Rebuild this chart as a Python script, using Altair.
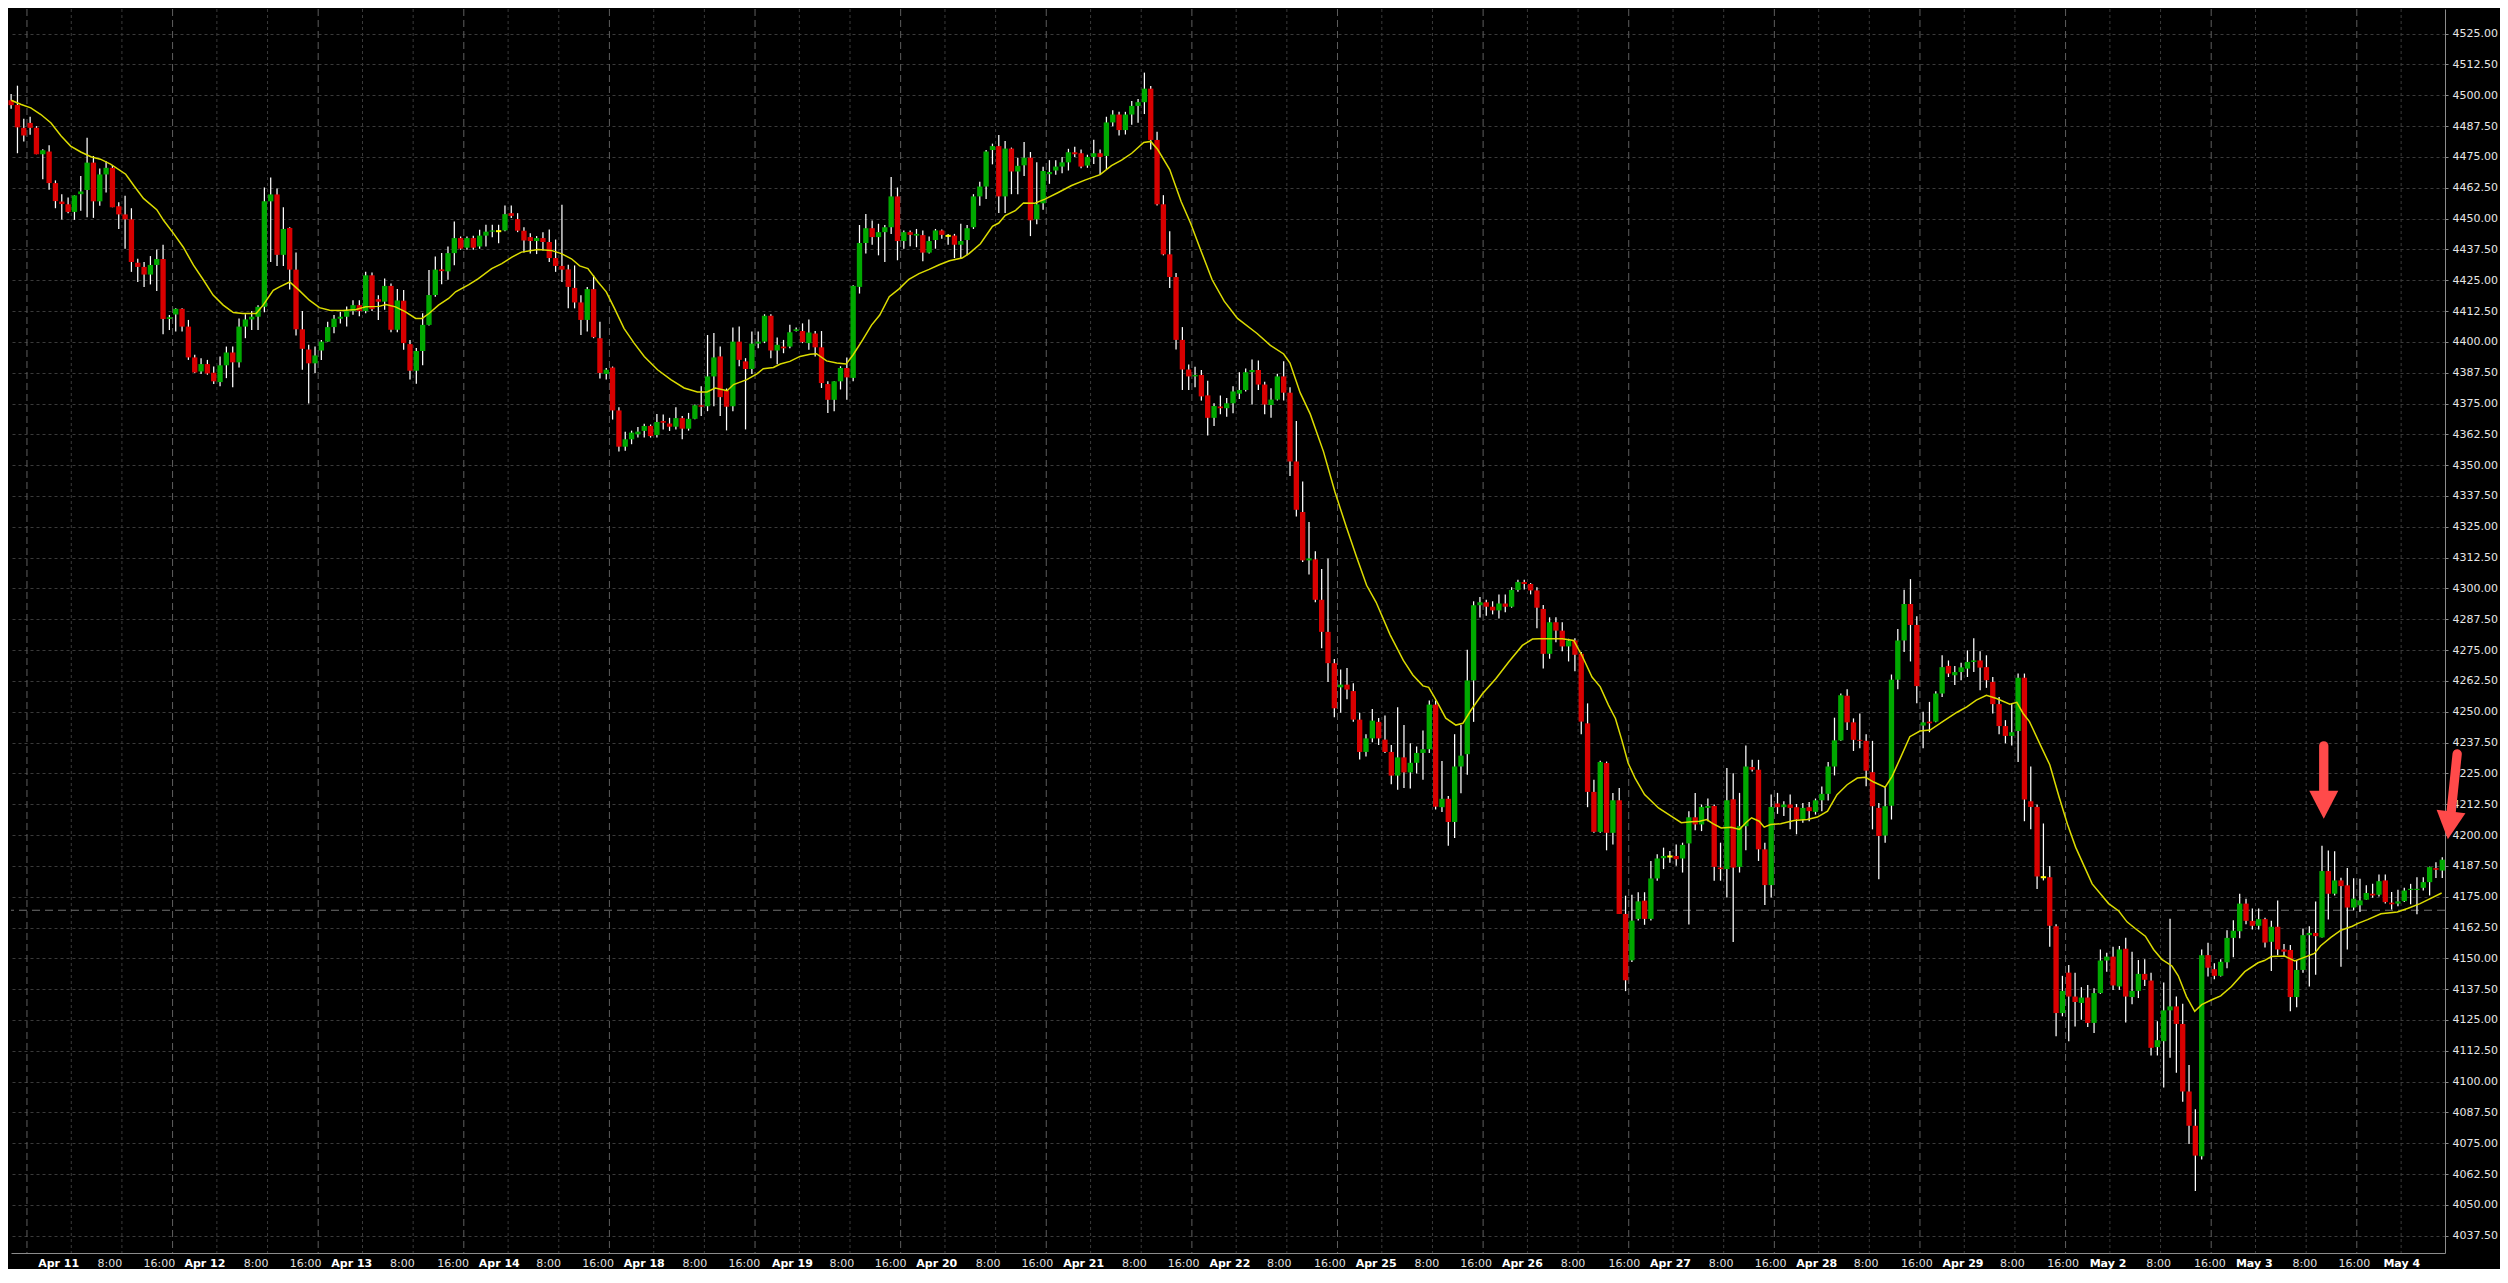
import altair as alt
import pandas as pd

# ---------------- data (hourly candles, index 0..384) ----------------
opens = [
4498.0, 4496.1, 4486.8, 4488.8, 4486.8, 4476.1, 4477.2, 4464.4, 4456.9, 4455.8,
4452.7, 4459.9, 4461.6, 4472.7, 4457.0, 4467.9, 4470.6, 4455.0, 4451.7, 4449.7,
4432.1, 4430.4, 4427.3, 4431.2, 4433.6, 4409.3, 4411.1, 4413.4, 4406.2, 4393.7,
4388.0, 4391.0, 4387.5, 4383.7, 4390.5, 4395.7, 4391.7, 4406.2, 4409.1, 4410.2,
4414.2, 4457.0, 4459.8, 4435.3, 4446.2, 4429.3, 4405.1, 4396.9, 4391.3, 4396.5,
4400.1, 4406.0, 4409.4, 4410.2, 4412.5, 4414.9, 4412.5, 4427.0, 4417.3, 4416.3,
4422.7, 4404.9, 4416.7, 4399.1, 4388.3, 4396.3, 4406.9, 4419.0, 4429.4, 4428.6,
4436.0, 4442.1, 4438.2, 4442.1, 4438.7, 4443.1, 4444.7, 4444.9, 4445.2, 4452.2,
4449.8, 4445.1, 4442.5, 4440.9, 4442.1, 4440.5, 4434.0, 4430.8, 4429.4, 4421.9,
4416.0, 4408.9, 4421.4, 4401.5, 4387.0, 4389.6, 4372.2, 4357.5, 4360.5, 4362.5,
4363.9, 4365.9, 4362.2, 4367.9, 4366.9, 4365.6, 4369.1, 4364.8, 4368.8, 4374.3,
4373.9, 4386.0, 4394.1, 4380.2, 4373.9, 4400.1, 4392.1, 4389.0, 4399.3, 4400.1,
4410.6, 4396.5, 4398.1, 4398.1, 4404.4, 4404.4, 4399.5, 4403.4, 4397.8, 4382.9,
4376.5, 4384.0, 4389.4, 4385.4, 4422.3, 4440.1, 4446.1, 4442.5, 4444.5, 4446.5,
4459.0, 4440.9, 4444.5, 4443.1, 4443.3, 4436.2, 4441.3, 4445.2, 4443.0, 4443.1,
4439.4, 4441.3, 4446.5, 4459.0, 4463.0, 4477.8, 4479.4, 4459.0, 4478.4, 4469.1,
4471.6, 4474.7, 4449.7, 4456.2, 4468.0, 4469.5, 4471.1, 4472.8, 4476.9, 4476.5,
4471.5, 4475.0, 4476.5, 4475.4, 4489.0, 4492.2, 4485.9, 4492.2, 4495.7, 4497.2,
4502.7, 4481.9, 4455.8, 4435.5, 4426.3, 4400.8, 4388.8, 4386.0, 4386.6, 4378.3,
4369.2, 4373.8, 4373.1, 4375.1, 4379.0, 4380.5, 4387.7, 4388.6, 4382.7, 4374.4,
4376.6, 4386.0, 4379.4, 4351.5, 4331.0, 4311.4, 4311.8, 4295.4, 4282.4, 4269.7,
4259.9, 4261.0, 4258.4, 4246.8, 4233.7, 4239.2, 4245.9, 4238.7, 4233.7, 4224.1,
4231.5, 4225.4, 4229.3, 4233.3, 4234.8, 4252.9, 4211.3, 4214.7, 4205.3, 4227.8,
4232.8, 4262.7, 4293.2, 4294.4, 4292.6, 4291.1, 4293.9, 4292.6, 4299.4, 4302.6,
4301.8, 4299.2, 4291.7, 4273.5, 4286.3, 4282.9, 4276.5, 4278.9, 4273.5, 4245.3,
4217.5, 4201.3, 4229.2, 4200.9, 4214.1, 4168.0, 4149.2, 4166.0, 4173.4, 4166.0,
4182.4, 4190.6, 4191.3, 4191.5, 4190.5, 4196.6, 4207.2, 4204.3, 4211.0, 4211.8,
4186.8, 4186.2, 4214.5, 4187.1, 4203.6, 4227.6, 4226.5, 4194.2, 4179.7, 4212.8,
4211.3, 4212.4, 4211.3, 4206.3, 4211.3, 4209.4, 4214.1, 4216.7, 4227.8, 4238.4,
4256.5, 4245.7, 4238.6, 4238.2, 4225.5, 4211.0, 4199.8, 4211.9, 4263.0, 4278.9,
4293.7, 4285.2, 4244.4, 4246.0, 4246.0, 4257.4, 4268.6, 4264.8, 4266.1, 4267.5,
4270.2, 4270.8, 4268.1, 4262.1, 4253.1, 4244.2, 4240.2, 4242.2, 4263.8, 4213.7,
4211.4, 4182.9, 4182.9, 4163.0, 4127.8, 4144.2, 4134.5, 4131.9, 4134.1, 4123.8,
4135.9, 4149.1, 4150.7, 4138.6, 4153.9, 4134.3, 4136.8, 4143.7, 4141.0, 4114.0,
4116.4, 4128.9, 4130.5, 4123.4, 4096.0, 4082.1, 4069.7, 4151.3, 4145.6, 4142.9,
4148.4, 4158.3, 4161.0, 4172.2, 4165.2, 4163.2, 4165.9, 4156.7, 4162.8, 4153.6,
4153.4, 4134.3, 4145.3, 4159.4, 4160.3, 4158.5, 4185.4, 4176.2, 4181.6, 4179.6,
4170.6, 4171.5, 4173.8, 4176.2, 4175.8, 4181.6, 4172.6, 4172.2, 4173.2, 4177.7,
4177.7, 4178.6, 4180.9, 4186.6, 4185.6]

highs = [
4500.5, 4503.9, 4490.5, 4491.3, 4487.5, 4478.1, 4479.7, 4465.5, 4459.9, 4458.6,
4459.4, 4467.3, 4482.8, 4475.4, 4470.3, 4473.3, 4471.6, 4456.6, 4459.3, 4454.2,
4433.7, 4432.4, 4434.8, 4437.5, 4439.4, 4410.9, 4413.6, 4413.6, 4408.9, 4394.8,
4393.4, 4392.7, 4390.0, 4394.1, 4398.1, 4398.1, 4409.5, 4411.2, 4412.5, 4414.9,
4462.6, 4466.7, 4462.2, 4454.6, 4446.5, 4436.2, 4412.5, 4398.8, 4398.1, 4400.8,
4408.2, 4410.9, 4412.2, 4414.3, 4416.9, 4416.9, 4428.4, 4428.1, 4418.9, 4425.7,
4423.7, 4421.4, 4421.0, 4400.8, 4397.5, 4411.6, 4429.2, 4434.6, 4436.0, 4438.7,
4448.8, 4442.7, 4442.7, 4443.0, 4445.5, 4447.5, 4447.5, 4447.5, 4455.3, 4455.3,
4452.2, 4446.5, 4444.1, 4442.9, 4444.5, 4445.6, 4441.5, 4455.6, 4431.3, 4431.0,
4418.9, 4422.3, 4427.0, 4408.2, 4389.4, 4390.0, 4373.5, 4363.6, 4364.0, 4365.5,
4366.8, 4366.5, 4370.8, 4370.6, 4369.2, 4373.5, 4369.9, 4371.2, 4374.6, 4382.0,
4402.8, 4403.6, 4398.1, 4381.1, 4405.8, 4406.2, 4393.4, 4404.2, 4404.2, 4411.2,
4411.2, 4401.8, 4400.8, 4406.9, 4405.8, 4407.5, 4409.1, 4404.4, 4404.4, 4384.0,
4384.0, 4390.1, 4393.7, 4423.0, 4447.4, 4451.9, 4449.2, 4447.9, 4447.4, 4466.9,
4462.6, 4445.2, 4445.2, 4445.8, 4445.2, 4442.7, 4445.8, 4445.6, 4443.8, 4443.8,
4447.9, 4447.4, 4459.9, 4464.9, 4477.8, 4480.4, 4483.9, 4481.5, 4478.8, 4474.7,
4481.1, 4477.0, 4472.8, 4471.0, 4473.7, 4473.7, 4475.0, 4478.3, 4479.1, 4478.0,
4475.9, 4482.0, 4478.0, 4491.3, 4493.9, 4493.3, 4493.3, 4497.7, 4498.5, 4509.2,
4503.8, 4485.2, 4459.5, 4444.9, 4427.9, 4406.0, 4390.8, 4389.9, 4388.6, 4384.2,
4375.1, 4378.3, 4377.2, 4382.0, 4387.7, 4389.2, 4392.9, 4392.5, 4383.8, 4381.2,
4387.1, 4392.1, 4381.6, 4367.9, 4343.4, 4327.0, 4315.1, 4307.9, 4312.2, 4271.4,
4267.1, 4267.7, 4261.6, 4249.6, 4240.9, 4251.1, 4247.5, 4248.5, 4236.5, 4251.8,
4244.6, 4237.2, 4235.9, 4242.4, 4254.6, 4254.6, 4230.0, 4215.8, 4240.9, 4244.6,
4275.1, 4294.8, 4296.5, 4295.4, 4294.8, 4297.6, 4297.6, 4300.5, 4303.5, 4303.5,
4302.2, 4300.5, 4293.3, 4288.3, 4288.3, 4286.3, 4279.6, 4279.8, 4274.2, 4253.4,
4222.4, 4230.1, 4229.8, 4217.1, 4219.1, 4175.4, 4175.8, 4176.8, 4176.8, 4189.5,
4192.2, 4194.9, 4193.5, 4196.2, 4196.9, 4209.7, 4217.1, 4212.4, 4214.8, 4212.4,
4196.9, 4227.2, 4225.1, 4217.1, 4236.3, 4230.5, 4230.5, 4196.9, 4216.4, 4217.1,
4213.7, 4216.4, 4212.6, 4213.0, 4213.4, 4214.8, 4219.7, 4229.6, 4247.6, 4257.4,
4259.1, 4247.3, 4249.3, 4240.9, 4238.2, 4213.0, 4219.8, 4265.1, 4283.6, 4299.5,
4303.8, 4288.7, 4250.0, 4254.0, 4258.3, 4272.9, 4270.8, 4268.6, 4269.9, 4274.9,
4279.8, 4274.5, 4272.9, 4264.1, 4256.0, 4246.6, 4253.1, 4265.5, 4265.5, 4227.8,
4212.4, 4204.7, 4187.4, 4163.8, 4142.9, 4147.3, 4144.2, 4138.3, 4139.2, 4137.9,
4153.6, 4152.3, 4154.7, 4155.0, 4158.3, 4152.7, 4149.3, 4149.6, 4144.2, 4124.5,
4140.2, 4166.1, 4134.5, 4131.6, 4106.7, 4088.8, 4153.6, 4156.3, 4148.0, 4149.6,
4161.4, 4165.4, 4176.2, 4174.2, 4170.2, 4170.2, 4166.5, 4165.2, 4173.5, 4155.8,
4155.4, 4149.3, 4162.1, 4163.0, 4173.1, 4195.7, 4193.7, 4193.4, 4182.7, 4186.6,
4182.5, 4182.3, 4179.6, 4180.2, 4184.0, 4184.0, 4176.9, 4177.8, 4178.6, 4180.2,
4182.9, 4182.9, 4187.2, 4189.0, 4191.0]

lows = [
4494.5, 4476.5, 4481.3, 4484.0, 4476.1, 4466.0, 4461.7, 4454.2, 4449.6, 4452.2,
4449.5, 4453.2, 4450.5, 4450.3, 4455.2, 4460.6, 4454.6, 4445.8, 4437.8, 4428.4,
4424.3, 4422.3, 4423.3, 4420.6, 4403.1, 4404.8, 4404.2, 4404.2, 4392.7, 4387.4,
4387.0, 4386.7, 4382.9, 4382.0, 4385.3, 4381.6, 4389.6, 4401.5, 4404.8, 4404.8,
4412.0, 4432.4, 4430.8, 4430.8, 4421.2, 4402.6, 4388.7, 4375.0, 4387.4, 4392.7,
4400.1, 4403.5, 4407.5, 4406.2, 4411.0, 4410.4, 4411.6, 4412.5, 4408.9, 4413.0,
4403.9, 4403.9, 4396.8, 4384.7, 4383.0, 4390.5, 4406.6, 4418.3, 4423.4, 4425.2,
4431.1, 4437.4, 4437.4, 4437.4, 4437.8, 4438.7, 4442.4, 4440.0, 4444.9, 4450.2,
4444.5, 4436.3, 4435.8, 4435.6, 4437.1, 4432.4, 4428.4, 4424.3, 4413.6, 4413.6,
4402.8, 4404.2, 4401.5, 4385.1, 4384.7, 4368.5, 4355.5, 4355.8, 4358.5, 4361.2,
4361.2, 4361.2, 4361.2, 4364.5, 4363.9, 4364.5, 4360.5, 4364.0, 4368.6, 4369.9,
4371.9, 4373.9, 4369.9, 4364.1, 4371.9, 4390.1, 4364.5, 4387.0, 4397.4, 4399.5,
4393.4, 4390.9, 4395.4, 4397.4, 4404.2, 4399.5, 4396.8, 4394.1, 4381.3, 4371.2,
4371.9, 4380.7, 4376.5, 4384.0, 4419.6, 4435.8, 4439.4, 4435.1, 4432.4, 4443.8,
4433.1, 4437.8, 4438.8, 4438.4, 4432.7, 4435.8, 4437.8, 4441.8, 4439.4, 4434.0,
4433.7, 4435.1, 4445.8, 4455.2, 4457.9, 4472.0, 4452.3, 4452.3, 4459.9, 4459.9,
4467.3, 4442.9, 4447.7, 4453.6, 4464.1, 4467.8, 4468.4, 4469.5, 4475.0, 4470.4,
4470.6, 4472.1, 4467.8, 4469.9, 4487.4, 4483.7, 4484.1, 4488.1, 4488.9, 4492.4,
4478.0, 4455.3, 4435.1, 4421.9, 4396.9, 4380.5, 4380.5, 4381.6, 4376.2, 4362.0,
4365.9, 4370.7, 4369.6, 4371.1, 4376.8, 4379.9, 4374.6, 4380.5, 4370.7, 4369.2,
4376.2, 4376.2, 4345.6, 4329.2, 4310.7, 4305.7, 4294.4, 4275.8, 4262.1, 4247.8,
4249.6, 4255.1, 4245.9, 4230.6, 4231.9, 4237.6, 4236.5, 4233.3, 4220.6, 4218.4,
4219.1, 4218.9, 4225.0, 4222.4, 4233.3, 4210.4, 4209.3, 4195.7, 4198.8, 4216.9,
4224.5, 4245.9, 4288.2, 4288.9, 4289.5, 4287.8, 4290.4, 4292.2, 4298.7, 4299.6,
4297.6, 4283.9, 4267.5, 4271.5, 4278.2, 4274.5, 4270.4, 4266.4, 4240.9, 4211.3,
4200.9, 4200.9, 4193.8, 4196.2, 4168.0, 4136.7, 4148.5, 4165.3, 4163.6, 4165.3,
4181.5, 4186.2, 4188.8, 4187.5, 4184.8, 4163.7, 4201.9, 4201.6, 4205.6, 4181.5,
4181.5, 4174.7, 4156.6, 4184.8, 4193.8, 4225.8, 4189.5, 4171.6, 4174.7, 4208.6,
4207.7, 4202.3, 4200.3, 4205.0, 4205.6, 4208.3, 4209.7, 4214.0, 4224.2, 4238.2,
4242.6, 4234.1, 4235.2, 4219.8, 4202.3, 4182.1, 4196.9, 4206.3, 4259.1, 4274.2,
4270.4, 4253.4, 4235.2, 4241.7, 4245.7, 4256.0, 4264.1, 4260.8, 4262.8, 4264.1,
4266.1, 4258.7, 4259.7, 4249.3, 4240.9, 4237.2, 4236.3, 4229.6, 4205.6, 4202.3,
4178.1, 4181.6, 4154.7, 4118.4, 4126.5, 4116.4, 4122.4, 4125.1, 4122.2, 4119.7,
4135.6, 4144.6, 4137.2, 4137.2, 4124.0, 4131.4, 4133.9, 4138.8, 4110.6, 4110.6,
4097.6, 4109.7, 4103.6, 4091.8, 4074.7, 4055.6, 4068.4, 4142.6, 4141.5, 4142.6,
4146.0, 4150.4, 4158.1, 4163.8, 4161.7, 4161.7, 4154.4, 4144.9, 4151.3, 4150.7,
4128.5, 4130.2, 4144.2, 4138.6, 4143.3, 4158.5, 4165.7, 4175.5, 4146.6, 4153.6,
4169.5, 4168.8, 4173.8, 4174.6, 4175.1, 4172.2, 4169.8, 4171.1, 4172.8, 4171.9,
4167.9, 4177.5, 4175.5, 4182.6, 4182.6]

closes = [
4496.0, 4487.0, 4483.7, 4486.8, 4476.1, 4477.7, 4464.4, 4457.1, 4455.9, 4452.7,
4459.4, 4461.0, 4472.7, 4457.0, 4467.9, 4470.6, 4454.6, 4451.7, 4449.7, 4432.4,
4430.4, 4427.3, 4431.2, 4433.6, 4409.3, 4410.0, 4413.4, 4406.2, 4393.7, 4387.6,
4391.0, 4387.2, 4384.0, 4390.5, 4395.7, 4391.7, 4406.2, 4409.1, 4410.2, 4414.2,
4457.0, 4459.8, 4435.3, 4445.8, 4429.3, 4405.1, 4397.2, 4391.3, 4394.5, 4400.1,
4406.0, 4409.4, 4410.2, 4412.5, 4414.9, 4412.5, 4427.0, 4413.3, 4416.3, 4422.7,
4404.9, 4416.8, 4399.5, 4388.3, 4396.3, 4406.9, 4419.0, 4429.3, 4428.7, 4436.0,
4442.1, 4437.8, 4442.1, 4438.2, 4443.1, 4444.7, 4445.2, 4444.9, 4451.8, 4451.1,
4445.1, 4441.1, 4440.9, 4442.1, 4440.5, 4434.0, 4430.8, 4429.3, 4422.3, 4416.0,
4408.9, 4421.4, 4401.9, 4387.4, 4388.7, 4372.2, 4357.5, 4360.5, 4363.2, 4363.6,
4365.9, 4361.8, 4367.5, 4367.2, 4365.6, 4369.1, 4364.8, 4368.8, 4374.3, 4373.7,
4386.0, 4393.7, 4377.6, 4373.7, 4400.1, 4392.7, 4389.0, 4399.3, 4400.1, 4410.6,
4396.5, 4398.8, 4397.4, 4403.9, 4405.1, 4399.9, 4403.8, 4397.8, 4383.3, 4376.5,
4384.0, 4389.4, 4385.6, 4422.7, 4440.1, 4446.1, 4442.5, 4444.5, 4446.5, 4459.0,
4440.9, 4444.5, 4443.4, 4443.8, 4436.2, 4440.9, 4445.2, 4443.4, 4443.0, 4439.4,
4440.9, 4446.1, 4459.0, 4463.0, 4477.2, 4479.4, 4459.0, 4478.4, 4469.1, 4471.4,
4474.7, 4449.3, 4455.8, 4469.3, 4468.9, 4471.1, 4472.8, 4476.9, 4476.1, 4471.1,
4475.0, 4476.5, 4475.0, 4489.0, 4492.2, 4485.9, 4492.2, 4495.7, 4497.2, 4502.7,
4481.9, 4455.8, 4435.5, 4426.3, 4400.8, 4388.8, 4386.0, 4386.6, 4377.9, 4369.2,
4374.0, 4373.1, 4375.1, 4379.9, 4380.5, 4387.7, 4388.6, 4382.7, 4374.6, 4376.6,
4386.0, 4379.4, 4351.5, 4331.9, 4311.4, 4312.2, 4295.4, 4282.4, 4269.7, 4251.4,
4261.0, 4259.0, 4246.8, 4233.7, 4239.2, 4246.4, 4239.2, 4233.7, 4224.1, 4231.5,
4225.4, 4229.3, 4233.3, 4234.8, 4252.9, 4211.5, 4214.7, 4205.3, 4227.8, 4232.2,
4262.7, 4293.2, 4294.4, 4292.6, 4291.1, 4293.9, 4292.6, 4299.4, 4302.6, 4301.8,
4299.2, 4292.2, 4273.5, 4286.3, 4282.9, 4276.5, 4278.9, 4273.1, 4246.0, 4217.5,
4201.3, 4229.6, 4200.9, 4214.1, 4168.0, 4141.1, 4165.3, 4173.1, 4166.0, 4182.4,
4190.5, 4191.5, 4191.3, 4190.2, 4196.0, 4207.2, 4204.3, 4211.4, 4211.8, 4187.1,
4186.2, 4214.1, 4186.8, 4203.6, 4227.8, 4226.5, 4194.2, 4179.7, 4211.4, 4211.3,
4212.4, 4211.0, 4206.3, 4211.0, 4209.7, 4214.1, 4216.7, 4227.8, 4238.4, 4256.7,
4245.7, 4238.6, 4238.2, 4226.1, 4211.7, 4199.6, 4211.7, 4263.0, 4278.9, 4293.7,
4285.2, 4260.4, 4245.7, 4245.3, 4257.4, 4268.1, 4265.5, 4266.1, 4268.0, 4270.2,
4270.8, 4267.9, 4262.8, 4253.1, 4244.2, 4240.2, 4241.7, 4263.8, 4214.4, 4211.4,
4183.2, 4182.9, 4163.2, 4127.8, 4136.8, 4134.5, 4132.3, 4134.1, 4123.8, 4135.9,
4149.1, 4150.7, 4139.0, 4153.6, 4134.5, 4136.8, 4143.7, 4141.3, 4113.7, 4116.8,
4128.9, 4130.5, 4123.4, 4096.0, 4082.1, 4070.0, 4151.3, 4146.2, 4142.9, 4148.6,
4158.3, 4161.2, 4172.2, 4165.2, 4163.2, 4165.9, 4156.4, 4162.8, 4153.6, 4152.7,
4134.3, 4145.3, 4159.4, 4160.3, 4159.0, 4185.4, 4176.2, 4181.6, 4179.3, 4170.6,
4174.2, 4173.5, 4176.5, 4175.5, 4181.3, 4172.8, 4171.9, 4173.1, 4177.5, 4178.2,
4178.2, 4180.9, 4187.0, 4185.9, 4190.0]

# yellow moving-average line, read point by point
ma_idx = [0, 1.6, 3.1, 4.7, 6.3, 7.9, 9.4, 11.0, 12.6, 14.1, 15.7, 18.1, 19.4, 20.9, 23.0, 24.1,
          25.7, 27.2, 28.8, 30.4, 31.9, 33.5, 35.1, 36.6, 38.7, 39.8, 41.4, 42.4, 44.0, 45.5,
          47.1, 48.7, 50.3, 52.4, 54.5, 56.0, 58.1, 59.2, 60.7, 62.3, 63.9, 64.9, 66.0, 67.5,
          69.1, 70.2, 72.3, 73.8, 75.9, 77.5, 79.1, 80.6, 82.2, 83.2, 85.3, 86.9, 88.5, 89.8,
          91.1, 92.7, 94.0, 95.3, 96.8, 98.4, 100.0, 102.1, 104.2, 106.3, 108.4, 109.9, 111.2,
          113.1, 114.1, 116.2, 117.8, 118.8, 120.4, 121.5, 123.0, 124.6, 126.2, 127.2, 128.8,
          130.4, 131.9, 133.0, 134.5, 135.9, 137.2, 138.7, 140.3, 141.8, 143.4, 145.0, 146.6,
          148.2, 150.2, 151.3, 153.1, 155.0, 156.0, 157.0, 158.6, 159.9, 161.7, 163.3, 165.4,
          167.5, 169.6, 172.0, 173.8, 175.4, 177.0, 178.9, 180.0, 181.1, 183.0, 184.8, 186.3,
          187.9, 189.7, 191.6, 193.7, 196.8, 198.9, 201.0, 202.0, 203.6, 205.2, 207.3, 209.1,
          210.9, 212.5, 214.1, 215.6, 217.8, 219.9, 221.4, 223.0, 223.9, 225.1, 226.6, 228.2,
          229.3, 230.6, 232.4, 234.5, 236.6, 238.7, 240.3, 241.3, 243.4, 245.0, 246.8, 248.1,
          249.7, 251.0, 252.3, 253.4, 254.4, 255.4, 256.5, 258.0, 260.2, 262.2, 263.8, 265.4,
          266.7, 267.8, 268.8, 270.1, 271.7, 273.0, 274.0, 274.9, 276.1, 276.9, 277.9, 279.5,
          281.6, 283.7, 285.3, 286.9, 288.4, 290.0, 291.6, 292.9, 294.2, 296.0, 297.1, 298.4,
          299.9, 301.5, 303.1, 305.2, 307.3, 308.9, 310.4, 312.0, 313.6, 315.7, 316.8, 317.8,
          318.8, 320.4, 322.0, 323.5, 324.8, 326.1, 327.4, 328.7, 330.0, 331.3, 332.9, 334.2,
          335.5, 337.1, 338.4, 339.7, 341.3, 342.3, 343.6, 344.9, 346.0, 347.6, 349.0, 350.7,
          352.8, 354.9, 355.9, 357.0, 359.1, 360.7, 362.2, 363.8, 364.8, 366.4, 368.0, 369.8,
          370.6, 372.2, 374.3, 376.9, 378.5, 380.5, 382.1, 383.9]
ma_val = [4498.0, 4496.3, 4494.9, 4492.2, 4488.8, 4483.5, 4479.4, 4477.0, 4475.1, 4474.1, 4472.1,
          4468.0, 4463.3, 4458.2, 4453.6, 4449.2, 4443.8, 4438.4, 4431.1, 4425.0, 4419.0, 4414.9,
          4411.9, 4411.5, 4411.5, 4414.9, 4420.9, 4422.3, 4424.3, 4420.9, 4416.9, 4413.9, 4412.8,
          4412.7, 4413.1, 4414.2, 4414.4, 4415.2, 4414.2, 4412.2, 4409.5, 4409.5, 4411.5, 4414.9,
          4417.6, 4420.3, 4423.2, 4425.7, 4429.7, 4431.7, 4434.4, 4436.4, 4437.1, 4437.5, 4437.1,
          4435.8, 4433.7, 4430.8, 4429.7, 4424.3, 4420.3, 4413.6, 4405.5, 4399.5, 4394.1, 4388.7,
          4384.7, 4381.3, 4379.7, 4379.7, 4381.3, 4380.2, 4382.7, 4384.7, 4387.0, 4389.1, 4389.6,
          4391.0, 4392.1, 4394.1, 4395.0, 4395.2, 4392.3, 4391.4, 4391.0, 4394.8, 4400.8, 4406.8,
          4410.9, 4418.3, 4421.6, 4425.4, 4427.7, 4429.4, 4431.3, 4432.9, 4434.0, 4435.8, 4439.8,
          4446.9, 4448.2, 4451.2, 4453.2, 4456.3, 4456.2, 4457.9, 4460.6, 4463.4, 4465.6, 4467.8,
          4471.5, 4473.7, 4476.5, 4480.9, 4481.3, 4478.0, 4469.9, 4456.9, 4448.1, 4437.2, 4425.2,
          4416.5, 4409.5, 4403.4, 4398.6, 4395.1, 4391.4, 4379.4, 4370.7, 4355.4, 4339.1, 4324.9,
          4312.9, 4301.3, 4294.4, 4281.3, 4270.8, 4264.9, 4260.5, 4259.9, 4254.6, 4247.4, 4244.6,
          4245.3, 4250.7, 4257.3, 4263.4, 4270.4, 4276.9, 4279.5, 4279.6, 4279.6, 4279.6, 4278.9,
          4272.9, 4264.1, 4260.1, 4252.7, 4247.3, 4238.6, 4229.2, 4223.1, 4216.4, 4211.0, 4207.7,
          4205.0, 4205.4, 4205.6, 4206.3, 4204.6, 4202.9, 4203.2, 4202.3, 4205.0, 4207.0, 4205.6,
          4203.2, 4204.3, 4204.6, 4205.9, 4206.3, 4207.3, 4209.7, 4216.4, 4220.4, 4223.1, 4223.4,
          4221.5, 4219.4, 4223.8, 4231.2, 4239.9, 4242.2, 4242.6, 4246.2, 4249.7, 4252.0, 4254.7,
          4256.7, 4255.4, 4253.1, 4253.8, 4249.3, 4246.0, 4237.2, 4228.5, 4215.2, 4204.4, 4195.0,
          4187.6, 4180.2, 4176.2, 4172.2, 4169.2, 4164.8, 4162.1, 4159.0, 4153.6, 4149.6, 4146.9,
          4142.9, 4134.5, 4128.5, 4131.2, 4133.2, 4134.8, 4138.6, 4144.6, 4148.2, 4149.1, 4150.7,
          4150.9, 4148.9, 4150.4, 4152.0, 4155.1, 4158.5, 4161.4, 4163.0, 4164.1, 4165.7, 4168.1,
          4168.8, 4170.2, 4172.2, 4174.2, 4176.5]

# x-axis labels (candle-index positions)
day_txt = ["Apr 11", "Apr 12", "Apr 13", "Apr 14", "Apr 18", "Apr 19", "Apr 20", "Apr 21", "Apr 22",
           "Apr 25", "Apr 26", "Apr 27", "Apr 28", "Apr 29", "May 2", "May 3", "May 4"]
day_pos = [7.5, 30.6, 53.8, 77.1, 100.0, 123.4, 146.2, 169.4, 192.5, 215.6, 238.7, 262.1,
           285.2, 308.3, 331.2, 354.3, 377.6]
h8_pos = [15.6, 38.7, 61.8, 84.9, 108.0, 131.2, 154.3, 177.4, 200.3, 223.6, 246.7, 270.1,
          293.0, 316.1, 339.2, 362.3]
h16_pos = [23.4, 46.5, 69.8, 92.7, 115.8, 138.9, 162.1, 185.2, 208.3, 231.4, 254.8, 277.9,
           301.0, 324.1, 347.3, 370.1]

# vertical grid: session lines (16:00) and 0:00 / 8:00 lines, in candle units
grid_long = [2.5, 25.5, 48.5, 71.5, 94.5, 117.5, 140.5, 163.5, 186.5, 209.5, 232.5, 255.5,
             278.5, 301.5, 324.5, 347.5, 370.5]
grid_short = [9.5, 17.5, 32.5, 40.5, 55.5, 63.5, 78.5, 86.5, 101.5, 109.5, 124.5, 132.5,
              147.5, 155.5, 170.5, 178.5, 193.5, 201.5, 216.5, 224.5, 239.5, 247.5, 262.5,
              270.5, 285.5, 293.5, 308.5, 316.5, 331.5, 339.5, 354.5, 362.5, 377.5]

y_ticks = [4037.5 + 12.5 * i for i in range(40)]
ref_price = [4169.5]

# red annotation arrows (candle index / price)
arrow_top_k = [365.28, 386.35]
arrow_top_p = [4236.2, 4232.9]
arrow_base_k = [365.28, 385.4]
arrow_base_p = [4217.3, 4209.3]
head_k = [365.28, 385.13]
head_p = [4212.3, 4203.9]
head_angle = [0.0, 6.5]

# ---------------- styles ----------------
GREEN = "#00a800"
RED = "#d80000"
YELLOW = "#ffff00"
MA_COLOR = "#dcdc00"
ARROW = "#ff4a4a"
W, H = 2434, 1244

xs = alt.Scale(domain=[-0.02, 384.43], zero=False, nice=False)
ys = alt.Scale(domain=[4030.5, 4535.0], zero=False, nice=False)
xaxis = alt.Axis(title=None, labels=False, ticks=False, grid=False, domain=True,
                 domainColor="#8c8c8c", domainWidth=1)
yaxis = alt.Axis(title=None, orient="right", values=y_ticks, format=".2f", grid=True,
                 gridColor="#3a3a3a", gridDash=[3, 3], gridWidth=1, domain=True,
                 domainColor="#8c8c8c", ticks=True, tickSize=3, tickColor="#8c8c8c",
                 labelColor="#e6e6e6", labelFont="DejaVu Sans", labelFontSize=11,
                 labelPadding=4, labelAlign="left")


def X(f):
    return alt.X(f"{f}:Q", scale=xs, axis=xaxis)


def Y(f):
    return alt.Y(f"{f}:Q", scale=ys, axis=yaxis)


candles = pd.DataFrame({"k": list(range(len(opens))), "o": opens, "h": highs,
                        "l": lows, "c": closes})

vg_short = alt.Chart(pd.DataFrame({"b": grid_short})).mark_rule(
    color="#3a3a3a", strokeDash=[3, 3], strokeWidth=1).encode(x=X("b"))
vg_long = alt.Chart(pd.DataFrame({"b": grid_long})).mark_rule(
    color="#5e5e5e", strokeDash=[7, 4], strokeWidth=1).encode(x=X("b"))
prev_line = alt.Chart(pd.DataFrame({"p": ref_price})).mark_rule(
    color="#707070", strokeDash=[8, 5], strokeWidth=1).encode(y=Y("p"))

wicks = alt.Chart(candles).mark_rule(color="#ffffff", strokeWidth=1.25).encode(
    x=X("k"), y=Y("l"), y2="h")

bodies = alt.Chart(candles).transform_calculate(
    xl="datum.k - 0.42", xr="datum.k + 0.42",
    dir="datum.c > datum.o ? 'up' : (datum.c < datum.o ? 'down' : 'flat')"
).mark_rect().encode(
    x=X("xl"), x2="xr", y=Y("o"), y2="c",
    color=alt.Color("dir:N", scale=alt.Scale(domain=["up", "down", "flat"],
                                             range=[GREEN, RED, YELLOW]), legend=None))

dojis = alt.Chart(candles).transform_filter("datum.o == datum.c").transform_calculate(
    xl="datum.k - 0.42", xr="datum.k + 0.42"
).mark_rule(color=YELLOW, strokeWidth=2).encode(x=X("xl"), x2="xr", y=Y("o"))

ma = alt.Chart(pd.DataFrame({"k": ma_idx, "v": ma_val})).mark_line(
    color=MA_COLOR, strokeWidth=1.5).encode(x=X("k"), y=Y("v"))

day_text = alt.Chart(pd.DataFrame({"pos": day_pos, "txt": day_txt})).mark_text(
    font="DejaVu Sans", fontSize=11, fontWeight="bold", color="#ffffff",
    align="center", baseline="middle").encode(x=X("pos"), y=alt.value(H + 11), text="txt:N")
h8_text = alt.Chart(pd.DataFrame({"pos": h8_pos, "txt": ["8:00"] * len(h8_pos)})).mark_text(
    font="DejaVu Sans", fontSize=11, color="#e0e0e0",
    align="center", baseline="middle").encode(x=X("pos"), y=alt.value(H + 11), text="txt:N")
h16_text = alt.Chart(pd.DataFrame({"pos": h16_pos, "txt": ["16:00"] * len(h16_pos)})).mark_text(
    font="DejaVu Sans", fontSize=11, color="#e0e0e0",
    align="center", baseline="middle").encode(x=X("pos"), y=alt.value(H + 11), text="txt:N")

shafts = alt.Chart(pd.DataFrame({"xa": arrow_top_k, "ya": arrow_top_p,
                                 "xb": arrow_base_k, "yb": arrow_base_p})).mark_rule(
    color=ARROW, strokeWidth=9.3, strokeCap="round").encode(
    x=X("xa"), y=Y("ya"), x2="xb", y2="yb")
heads = alt.Chart(pd.DataFrame({"hx": head_k, "hy": head_p, "ang": head_angle})).mark_point(
    shape="M-1,-0.966L1,-0.966L0,0.966Z", size=841, filled=True, opacity=1,
    color=ARROW, strokeWidth=0).encode(
    x=X("hx"), y=Y("hy"), angle=alt.Angle("ang:Q", scale=None))

chart = alt.layer(
    vg_short, vg_long, prev_line, wicks, bodies, dojis, ma,
    day_text, h8_text, h16_text, shafts, heads
).properties(
    width=W, height=H, background="#000000",
    padding={"left": 0, "top": 0, "right": 2, "bottom": 0}
).configure_view(strokeWidth=0, fill="#000000")

chart.save("out.html", embed_options={"renderer": "svg", "actions": False})
